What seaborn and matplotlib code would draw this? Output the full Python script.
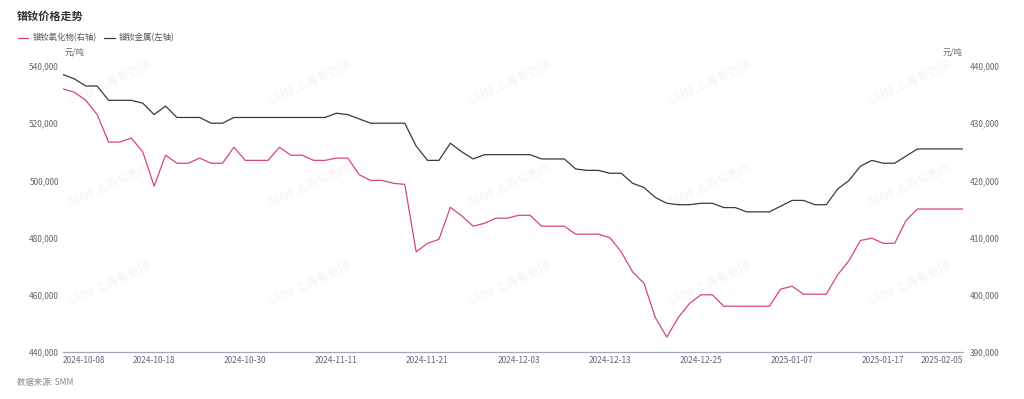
import matplotlib
matplotlib.use("Agg")
import matplotlib.pyplot as plt
import seaborn as sns
import numpy as np
import pandas as pd

sns.set_theme(style="white")
plt.rcParams['font.family'] = ['Noto Sans CJK SC', 'DejaVu Sans']
plt.rcParams['axes.unicode_minus'] = False

# trading days shown on the x axis
dates = (
    ["2024-10-08", "2024-10-09", "2024-10-10", "2024-10-11", "2024-10-14", "2024-10-15",
     "2024-10-16", "2024-10-17", "2024-10-18", "2024-10-21", "2024-10-22", "2024-10-23",
     "2024-10-24", "2024-10-25", "2024-10-28", "2024-10-29", "2024-10-30", "2024-10-31",
     "2024-11-01", "2024-11-04", "2024-11-05", "2024-11-06", "2024-11-07", "2024-11-08",
     "2024-11-11", "2024-11-12", "2024-11-13", "2024-11-14", "2024-11-15", "2024-11-18",
     "2024-11-19", "2024-11-20", "2024-11-21", "2024-11-22", "2024-11-25", "2024-11-26",
     "2024-11-27", "2024-11-28", "2024-11-29", "2024-12-02", "2024-12-03", "2024-12-04",
     "2024-12-05", "2024-12-06", "2024-12-09", "2024-12-10", "2024-12-11", "2024-12-12",
     "2024-12-13", "2024-12-16", "2024-12-17", "2024-12-18", "2024-12-19", "2024-12-20",
     "2024-12-23", "2024-12-24", "2024-12-25", "2024-12-26", "2024-12-27", "2024-12-30",
     "2024-12-31", "2025-01-02", "2025-01-03", "2025-01-06", "2025-01-07", "2025-01-08",
     "2025-01-09", "2025-01-10", "2025-01-13", "2025-01-14", "2025-01-15", "2025-01-16",
     "2025-01-17", "2025-01-20", "2025-01-21", "2025-01-22", "2025-01-23", "2025-01-24",
     "2025-01-27", "2025-02-05"]
)

# 镨钕金属 (left axis), 元/吨
metal = [
    537000, 535500, 533000, 533000, 528000, 528000, 528000, 527000, 523000, 526000,
    522000, 522000, 522000, 520000, 520000, 522000, 522000, 522000, 522000, 522000,
    522000, 522000, 522000, 522000, 523500, 523000, 521500, 520000, 520000, 520000,
    520000, 512000, 507000, 507000, 513000, 510000, 507500, 509000, 509000, 509000,
    509000, 509000, 507500, 507500, 507500, 504000, 503500, 503500, 502500, 502500,
    499000, 497500, 494000, 492000, 491500, 491500, 492000, 492000, 490500, 490500,
    489000, 489000, 489000, 491000, 493000, 493000, 491500, 491500, 497000, 500000,
    505000, 507000, 506000, 506000, 508500, 511000, 511000, 511000, 511000, 511000,
]

# 镨钕氧化物 (right axis), 元/吨
oxide = [
    436000, 435400, 434000, 431500, 426700, 426700, 427400, 425000, 419000, 424400,
    423000, 423000, 423900, 423000, 423000, 425800, 423500, 423500, 423500, 425800,
    424400, 424400, 423500, 423500, 423900, 423900, 421000, 420000, 420000, 419500,
    419300, 407500, 409000, 409700, 415300, 413800, 412000, 412500, 413400, 413400,
    413900, 413900, 412000, 412000, 412000, 410600, 410600, 410600, 410000, 407500,
    404000, 402000, 396000, 392600, 396000, 398500, 400000, 400000, 398000, 398000,
    398000, 398000, 398000, 401000, 401500, 400100, 400100, 400100, 403500, 406000,
    409500, 409900, 409000, 409000, 413000, 415000, 415000, 415000, 415000, 415000,
]

df = pd.DataFrame({"idx": np.arange(len(dates)), "date": dates,
                   "metal": metal, "oxide": oxide})

pink = "#d6457b"
dark = "#3a3a3a"
tick_color = "#666666"

fig = plt.figure(figsize=(10.24, 3.99), dpi=100)
ax = fig.add_axes([63 / 1024, 1 - 352 / 399, 900 / 1024, 286 / 399])
ax2 = ax.twinx()

sns.lineplot(data=df, x="idx", y="oxide", ax=ax2, color=pink, linewidth=0.9,
             label="镨钕氧化物(右轴)", legend=False)
sns.lineplot(data=df, x="idx", y="metal", ax=ax, color=dark, linewidth=0.9,
             label="镨钕金属(左轴)", legend=False)

ax.set_xlim(0, len(dates) - 1)
ax.set_ylim(440000, 540000)
ax2.set_ylim(390000, 440000)
ax.set_yticks(np.arange(440000, 540001, 20000))
ax2.set_yticks(np.arange(390000, 440001, 10000))
ax.yaxis.set_major_formatter(matplotlib.ticker.StrMethodFormatter("{x:,.0f}"))
ax2.yaxis.set_major_formatter(matplotlib.ticker.StrMethodFormatter("{x:,.0f}"))

tick_idx = list(range(0, 73, 8)) + [len(dates) - 1]
ax.set_xticks(tick_idx)
ax.set_xticklabels([dates[i] for i in tick_idx])
xl = ax.get_xticklabels()
xl[0].set_horizontalalignment("left")
xl[-1].set_horizontalalignment("right")

for a in (ax, ax2):
    a.set_xlabel("")
    a.set_ylabel("")
    a.grid(False)
    a.patch.set_alpha(0)
    for s in a.spines.values():
        s.set_visible(False)
    a.tick_params(length=0, labelsize=6, colors=tick_color)
ax.tick_params(axis="y", pad=3)
ax2.tick_params(axis="y", pad=5)
ax.tick_params(axis="x", pad=3)
ax.spines["bottom"].set_visible(True)
ax.spines["bottom"].set_color("#a3a5bb")
ax.spines["bottom"].set_linewidth(0.9)

# unit labels
fig.text(65 / 1024, 1 - 52 / 399, "元/吨", fontsize=6, color=tick_color, va="center", ha="left")
fig.text(963 / 1024, 1 - 52 / 399, "元/吨", fontsize=6, color=tick_color, va="center", ha="right")

# title, legend, source
fig.text(17 / 1024, 1 - 16 / 399, "镨钕价格走势", fontsize=8, fontweight="bold",
         color="#333333", va="center", ha="left")
h1, l1 = ax2.get_legend_handles_labels()
h2, l2 = ax.get_legend_handles_labels()
fig.legend(h1 + h2, l1 + l2, loc="center left", bbox_to_anchor=(10 / 1024, 1 - 38 / 399),
           ncol=2, frameon=False, fontsize=6, handlelength=1.3, handletextpad=0.5,
           columnspacing=0.9, labelcolor="#555555")
fig.text(17 / 1024, 1 - 382 / 399, "数据来源: SMM", fontsize=6, color="#888888",
         style="italic", va="center", ha="left")

# watermark grid
for wx in [110, 310, 510, 710, 910]:
    for wy in [82, 185, 283]:
        fig.text(wx / 1024, 1 - wy / 399, "SMM 上海有色网", fontsize=8.5, color="#f3f3f3",
                 rotation=25, ha="center", va="center", zorder=-1)

fig.savefig("out.png", dpi=100, facecolor="white")
